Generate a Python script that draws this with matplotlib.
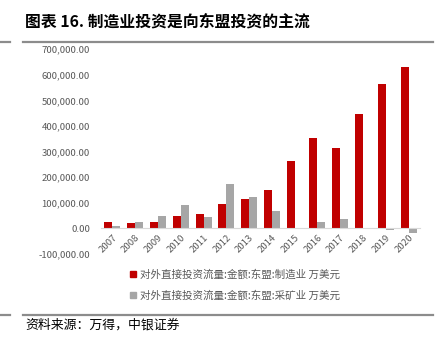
import matplotlib.pyplot as plt
from matplotlib.lines import Line2D
import numpy as np

plt.rcParams['font.family'] = ['Noto Sans CJK SC', 'DejaVu Sans']

years = ['2007', '2008', '2009', '2010', '2011', '2012', '2013',
         '2014', '2015', '2016', '2017', '2018', '2019', '2020']
manufacturing = [27000, 21000, 26000, 47000, 55000, 96000, 116000,
                 151000, 262000, 352000, 314000, 447000, 563000, 629000]
mining = [11000, 26000, 47000, 90000, 44000, 172000, 122000,
          68000, 2000, 26000, 35000, 1000, -8000, -16000]
label_mfg = '对外直接投资流量:金额:东盟:制造业 万美元'
label_min = '对外直接投资流量:金额:东盟:采矿业 万美元'
title = '图表 16. 制造业投资是向东盟投资的主流'
source = '资料来源：万得，中银证券'

red = '#C00000'
gray = '#A6A6A6'
txt = '#595959'

fig = plt.figure(figsize=(4.43, 3.41), dpi=100)
ax = fig.add_axes([0.228, 0.255, 0.72, 0.601])

# category axis sits at zero, labels follow it
for s in ['top', 'right', 'left']:
    ax.spines[s].set_visible(False)
ax.spines['bottom'].set_position(('data', 0))
ax.spines['bottom'].set_color('#D9D9D9')
ax.spines['bottom'].set_linewidth(0.8)

x = np.arange(len(years))
w = 0.35
ax.bar(x - w / 2, manufacturing, w, color=red, label=label_mfg)
ax.bar(x + w / 2, mining, w, color=gray, label=label_min)

ax.set_xlim(-0.5, len(years) - 0.5)
ax.set_ylim(-100000, 700000)
yt = np.arange(-100000, 700001, 100000)
ax.set_yticks(yt)
ax.set_yticklabels([f'{v:,.2f}' for v in yt])
ax.set_xticks(x)
ax.set_xticklabels(years, rotation=45, ha='right', rotation_mode='anchor')
ax.tick_params(axis='both', length=0, labelsize=6.9, labelcolor=txt)
ax.tick_params(axis='x', pad=3)
ax.tick_params(axis='y', pad=8)

handles = [Line2D([], [], marker='s', ls='', color=red, markersize=4),
           Line2D([], [], marker='s', ls='', color=gray, markersize=4)]
fig.legend(handles, [label_mfg, label_min], loc='upper left',
           bbox_to_anchor=(0.293, 1 - 269 / 341), frameon=False, fontsize=7.6,
           labelcolor=txt, handletextpad=0.25, labelspacing=1.0,
           handlelength=0.7, borderaxespad=0, borderpad=0)

fig.text(25 / 443, 1 - 22 / 341, title, fontsize=11.4, fontweight='bold',
         va='center', ha='left', color='#000000')
fig.text(25 / 443, 1 - 325 / 341, source, fontsize=9.3, style='italic',
         va='center', ha='left', color='#000000')

for yy in (42, 315):
    fig.add_artist(Line2D([23 / 443, 433 / 443], [1 - yy / 341] * 2,
                          color='#8C8C8C', lw=1.6))
    fig.add_artist(Line2D([0, 10 / 443], [1 - yy / 341] * 2,
                          color='#8C8C8C', lw=1.6))

fig.savefig('out.png', dpi=100)
